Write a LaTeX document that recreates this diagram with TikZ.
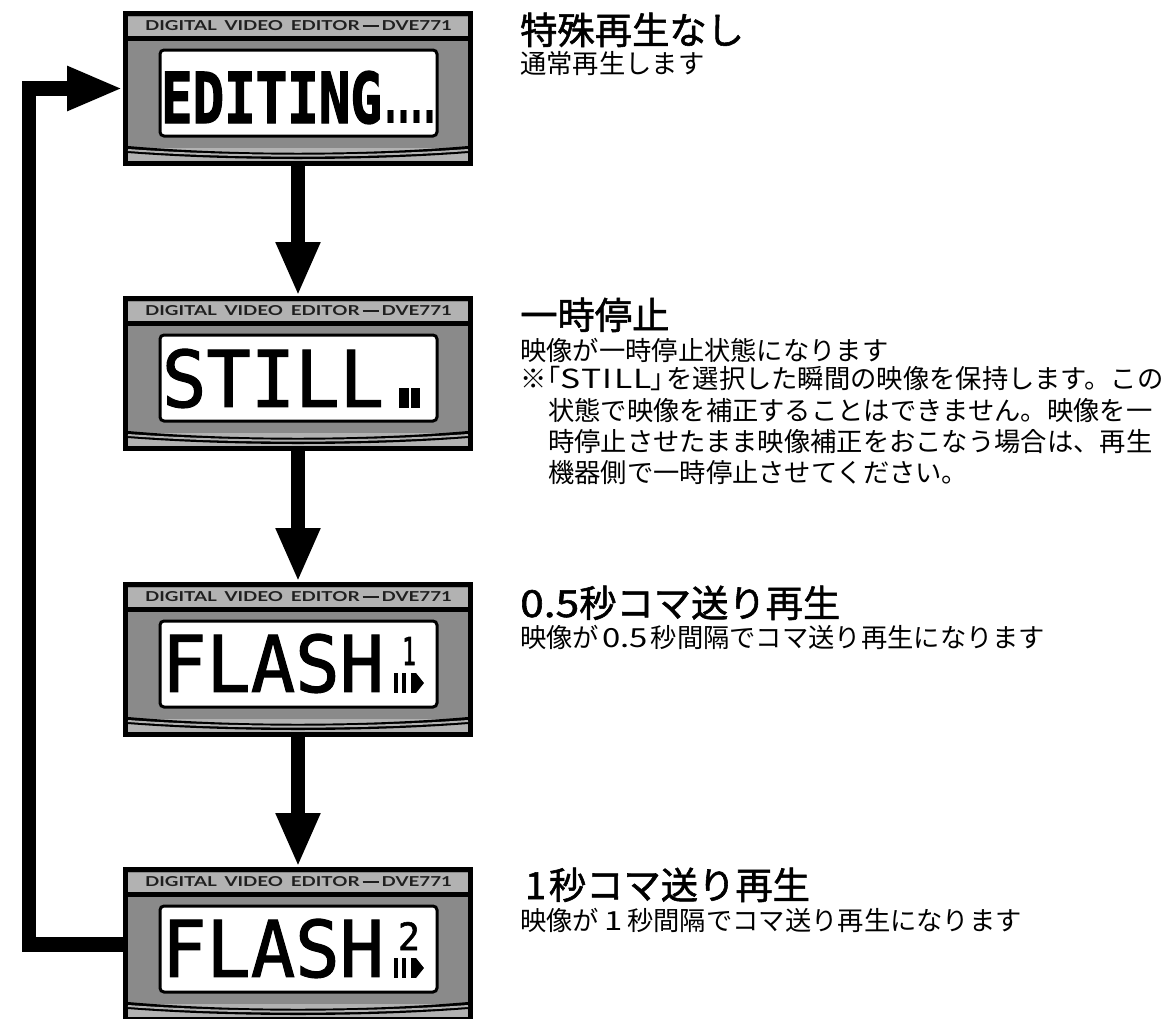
\documentclass[tikz,border=0pt]{standalone}
\usepackage{fontspec}
\usepackage{graphicx}
\usetikzlibrary{arrows.meta}
\setmainfont{DejaVu Sans}
\newfontfamily\jpfont{Noto Sans CJK JP}
\newfontfamily\jptitle[FakeBold=1.5]{Noto Sans CJK JP}
\newfontfamily\lcdthin[FakeBold=1.5]{DejaVu Sans Mono}
\newfontfamily\lcdbold[FakeBold=2]{DejaVu Sans Mono Bold}
\newfontfamily\lcdprop{DejaVu Sans Bold}
\newfontfamily\hdrfont{Lato Bold}
\definecolor{paneldark}{HTML}{8A8A8A}
\definecolor{panellight}{HTML}{B2B2B2}
\tikzset{
  panelbox/.style={draw=black,fill=paneldark,line width=5pt,minimum width=345pt,minimum height=150pt,inner sep=0pt},
  lcdscreen/.style={draw=black,fill=white,line width=3pt,rounded corners=4pt},
  lighthalf/.style={fill=panellight,draw=none},
  lcdtext/.style={anchor=south west,inner sep=0pt,outer sep=0pt,text=black},
  hdrtext/.style={anchor=south west,inner sep=0pt,outer sep=0pt,text=black!88},
  headline/.style={anchor=base west,inner sep=0pt,font=\fontsize{37.3}{37}\jptitle},
  bodyline/.style={anchor=base west,inner sep=0pt,font=\fontsize{26.3}{27}\jpfont},
  fatarrow/.style={line width=14.5pt,line join=miter,-{Triangle[length=54pt,width=41pt]}},
  returnarrow/.style={line width=14.5pt,line join=miter,-{Triangle[length=56pt,width=41pt]}},
}
\newcommand{\lcdpanel}[2]{%
  \node[panelbox] (#1) at (298,#2+77.5) {};
  \fill[lighthalf] (128,#2+6) rectangle (468,#2+25);
  \fill[black] (128,#2+25) rectangle (468,#2+30);
  \fill[lighthalf] (128,#2+137) rectangle (468,#2+150);
  \fill[black] (128,#2+135) .. controls (230,#2+144) and (366,#2+144) .. (468,#2+135)
     -- (468,#2+142) .. controls (366,#2+150) and (230,#2+150) .. (128,#2+142) -- cycle;
  \draw[panellight,line width=2pt] (128,#2+139) .. controls (230,#2+146.5) and (366,#2+146.5) .. (468,#2+139);
  \draw[lcdscreen] (160,#2+39) rectangle (437,#2+125);
  \node[hdrtext] (#1hdr) at (145,#2+19.5) {\resizebox{307pt}{10pt}{\hdrfont DIGITAL\, VIDEO\, EDITOR\,\rule[0.28em]{0.85em}{0.1em}\,DVE771}};
}
\newcommand{\stepicon}[1]{%
  \fill (394,#1+91) rectangle (398,#1+111);
  \fill (402,#1+91) rectangle (406,#1+111);
  \fill (411,#1+91) rectangle (416,#1+111);
  \fill (416,#1+91) -- (424,#1+101) -- (416,#1+111) -- cycle;
}
\begin{document}
\begin{tikzpicture}[x=1pt,y=-1pt]
\useasboundingbox (0,0) rectangle (1176,1018);
\clip (0,0) rectangle (1176,1018);
\lcdpanel{pa}{11}
\lcdpanel{pb}{296}
\lcdpanel{pc}{582}
\lcdpanel{pd}{867}
% LCD contents
\node[lcdtext] (lcda) at (161,124) {\resizebox{221pt}{52pt}{\lcdbold EDITING}\hspace{2pt}\resizebox{52pt}{13pt}{\lcdprop ....}};
\node[lcdtext] (lcdb) at (162,408) {\resizebox{222pt}{58pt}{\lcdthin STILL}};
\fill (399,388) rectangle (409,408);
\fill (411,388) rectangle (420,408);
\node[lcdtext] (lcdc) at (162,693) {\resizebox{222pt}{58pt}{\lcdthin FLASH}};
\node[lcdtext] (numc) at (402,665) {\resizebox{14pt}{28pt}{\lcdthin 1}};
\stepicon{582}
\node[lcdtext] (lcdd) at (162,978) {\resizebox{222pt}{58pt}{\lcdthin FLASH}};
\node[lcdtext] (numd) at (398,950) {\resizebox{22pt}{28pt}{\lcdthin 2}};
\stepicon{867}
% arrows
\draw[fatarrow] (pa.south) -- (pb.north);
\draw[fatarrow] (pb.south) -- (pc.north);
\draw[fatarrow] (pc.south) -- (pd.north);
\coordinate (turn) at (29,500);
\draw[returnarrow] (pd.west) -| (turn) |- (pa.west);
% texts
\node[headline] (ta) at (520,44) {特殊再生なし};
\node[bodyline] (ba) at (520,73) {通常再生します};
\node[headline] (tb) at (520,329) {一時停止};
\node[bodyline] (bb) at (520,360) {映像が一時停止状態になります};
\node[bodyline] (bc) at (520,388) {※\kern-12pt「\scalebox{1.28}[1]{\addfontfeature{LetterSpace=4}STILL}\kern-2pt」\kern-10pt を選択した瞬間の映像を保持します。この};
\node[bodyline] (bd) at (548,420) {状態で映像を補正することはできません。映像を一};
\node[bodyline] (be) at (548,451) {時停止させたまま映像補正をおこなう場合は、再生};
\node[bodyline] (bf) at (548,482) {機器側で一時停止させてください。};
\node[headline] (tc) at (520,617) {\scalebox{1.14}[1]{0.5}秒コマ送り再生};
\node[bodyline] (bg) at (520,647) {映像が\kern3pt\scalebox{1.25}[1]{0.5}\kern3pt 秒間隔でコマ送り再生になります};
\node[headline] (td) at (520,899) {\kern5pt 1\kern3pt 秒コマ送り再生};
\node[bodyline] (bh) at (520,930) {映像が\kern5pt\scalebox{1.25}[1]{1}\kern5pt 秒間隔でコマ送り再生になります};
\end{tikzpicture}
\end{document}
